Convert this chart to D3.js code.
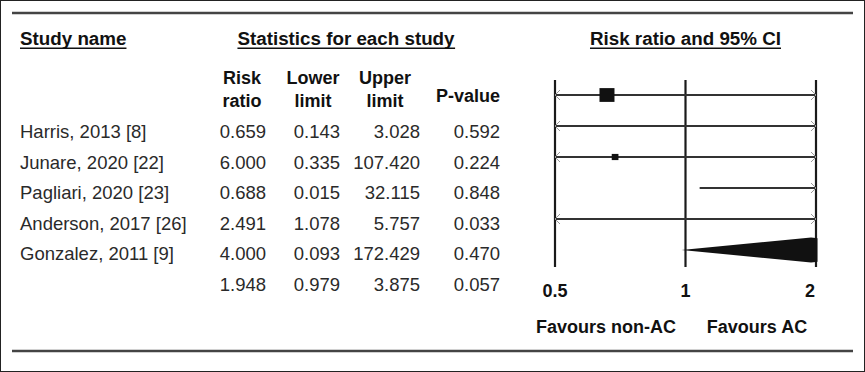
<!DOCTYPE html>
<html><head><meta charset="utf-8">
<script src="https://cdn.jsdelivr.net/npm/d3@7"></script>
<style>
html,body{margin:0;padding:0;background:#fff;}
svg{display:block;font-family:"Liberation Sans",Arial,sans-serif;}
</style></head>
<body>
<svg id="chart" width="865" height="372"></svg>
<script>
// ---- data ----
const studies = ["Harris, 2013 [8]", "Junare, 2020 [22]", "Pagliari, 2020 [23]", "Anderson, 2017 [26]", "Gonzalez, 2011 [9]"];
const riskRatio = [0.659, 6.000, 0.688, 2.491, 4.000];
const lowerLimit = [0.143, 0.335, 0.015, 1.078, 0.093];
const upperLimit = [3.028, 107.420, 32.115, 5.757, 172.429];
const pValue = [0.592, 0.224, 0.848, 0.033, 0.470];
const weights = [20, 5, 4, 60, 3];           // relative study weights
const summary = [1.948, 0.979, 3.875, 0.057]; // RR, lower, upper, p
const tickValues = [0.5, 1, 2];
const tickLabels = ["0.5", "1", "2"];
const colHeads = [["Risk", "ratio"], ["Lower", "limit"], ["Upper", "limit"], ["", "P-value"]];
const sectionHeads = ["Study name", "Statistics for each study", "Risk ratio and 95% CI"];
const favours = ["Favours non-AC", "Favours AC"];

// ---- drawing ----
const svg = d3.select("#chart");
const W = 865, H = 372;
const dark = "#1a1a1a", txt = "#2a2a2a";

svg.append("rect").attr("x", 0.5).attr("y", 0.5).attr("width", W - 1).attr("height", H - 1)
  .attr("fill", "#fff").attr("stroke", "#222").attr("stroke-width", 1);

// horizontal rules
[13, 351].forEach(y => svg.append("line").attr("x1", 12).attr("x2", 853).attr("y1", y).attr("y2", y)
  .attr("stroke", "#444").attr("stroke-width", 2.6));

const x = d3.scaleLog().domain([0.5, 2]).range([555, 816]);
const rowText = d3.scaleLinear().domain([0, 5]).range([138, 291]);
const rowPlot = d3.scaleLinear().domain([0, 5]).range([95, 250]);
const box = d3.scaleSqrt().domain([0, 20]).range([0, 15]);

// section headers with underline
const secX = [20, 346, x(1)];
const secAnchor = ["start", "middle", "middle"];
sectionHeads.forEach((s, i) => {
  const t = svg.append("text").attr("x", secX[i]).attr("y", 45).attr("text-anchor", secAnchor[i])
    .attr("font-size", 18.8).attr("font-weight", "bold").attr("fill", "#111").text(s);
  const b = t.node().getBBox();
  svg.append("line").attr("x1", b.x).attr("x2", b.x + b.width).attr("y1", 48.3).attr("y2", 48.3)
    .attr("stroke", "#111").attr("stroke-width", 1.4);
});

// column headers
const colCenter = [242, 313, 385];
const colRight = [266, 340, 420, 500];
colHeads.forEach((h, i) => {
  if (i < 3) {
    svg.append("text").attr("x", colCenter[i]).attr("y", 83.5).attr("text-anchor", "middle")
      .attr("font-size", 18).attr("font-weight", "bold").attr("fill", "#111").text(h[0]);
    svg.append("text").attr("x", colCenter[i]).attr("y", 106.5).attr("text-anchor", "middle")
      .attr("font-size", 18).attr("font-weight", "bold").attr("fill", "#111").text(h[1]);
  } else {
    svg.append("text").attr("x", colRight[i]).attr("y", 101.5).attr("text-anchor", "end")
      .attr("font-size", 18).attr("font-weight", "bold").attr("fill", "#111").text(h[1]);
  }
});

// table rows
const fmt = d3.format(".3f");
const rows = studies.map((s, i) => ({name: s, vals: [riskRatio[i], lowerLimit[i], upperLimit[i], pValue[i]]}));
rows.push({name: "", vals: summary});
rows.forEach((r, i) => {
  svg.append("text").attr("x", 20).attr("y", rowText(i)).attr("font-size", 18.5).attr("fill", txt).text(r.name);
  r.vals.forEach((v, j) => {
    svg.append("text").attr("x", colRight[j]).attr("y", rowText(i)).attr("text-anchor", "end")
      .attr("font-size", 18.5).attr("fill", txt).text(fmt(v));
  });
});

// plot: vertical lines
tickValues.forEach(t => {
  svg.append("line").attr("x1", x(t)).attr("x2", x(t)).attr("y1", 80).attr("y2", 267)
    .attr("stroke", dark).attr("stroke-width", 2.2);
});

const [dMin, dMax] = x.domain();
const arrow = (xx, y, dir) => {
  svg.append("path")
    .attr("d", `M${xx - dir * 5},${y - 5}L${xx},${y}L${xx - dir * 5},${y + 5}`)
    .attr("fill", "none").attr("stroke", "#999").attr("stroke-width", 1);
};

studies.forEach((s, i) => {
  const y = rowPlot(i);
  const lo = Math.max(lowerLimit[i], dMin), hi = Math.min(upperLimit[i], dMax);
  if (lo < hi) {
    svg.append("line").attr("x1", x(lo)).attr("x2", x(hi)).attr("y1", y).attr("y2", y)
      .attr("stroke", "#333").attr("stroke-width", 1.8);
  }
  if (lowerLimit[i] < dMin) arrow(x(dMin), y, -1);
  if (upperLimit[i] > dMax) arrow(x(dMax), y, 1);
  const rr = riskRatio[i];
  if (rr >= dMin && rr <= dMax) {
    const sz = box(weights[i]);
    svg.append("rect").attr("x", x(rr) - sz / 2).attr("y", y - sz * 0.46).attr("width", sz).attr("height", sz * 0.92)
      .attr("fill", "#111");
  }
});

// summary diamond (clipped to axis range)
svg.append("clipPath").attr("id", "plotclip").append("rect")
  .attr("x", x(dMin)).attr("y", 60).attr("width", x(dMax) - x(dMin) + 1.5).attr("height", 220);
const yS = rowPlot(5), hS = 12.5;
svg.append("polygon").attr("clip-path", "url(#plotclip)")
  .attr("points", [[x(summary[1]), yS], [x(summary[0]), yS - hS], [x(summary[2]), yS], [x(summary[0]), yS + hS]].join(" "))
  .attr("fill", "#111");

// tick labels
tickValues.forEach((t, i) => {
  const last = i === tickValues.length - 1;
  svg.append("text").attr("x", last ? x(t) - 1 : x(t)).attr("y", 297)
    .attr("text-anchor", last ? "end" : "middle")
    .attr("font-size", 18).attr("font-weight", "bold").attr("fill", "#111").text(tickLabels[i]);
});

// favours labels
svg.append("text").attr("x", 606).attr("y", 333).attr("text-anchor", "middle")
  .attr("font-size", 18).attr("font-weight", "bold").attr("fill", "#111").text(favours[0]);
svg.append("text").attr("x", 757).attr("y", 333).attr("text-anchor", "middle")
  .attr("font-size", 18).attr("font-weight", "bold").attr("fill", "#111").text(favours[1]);
</script>
</body></html>
